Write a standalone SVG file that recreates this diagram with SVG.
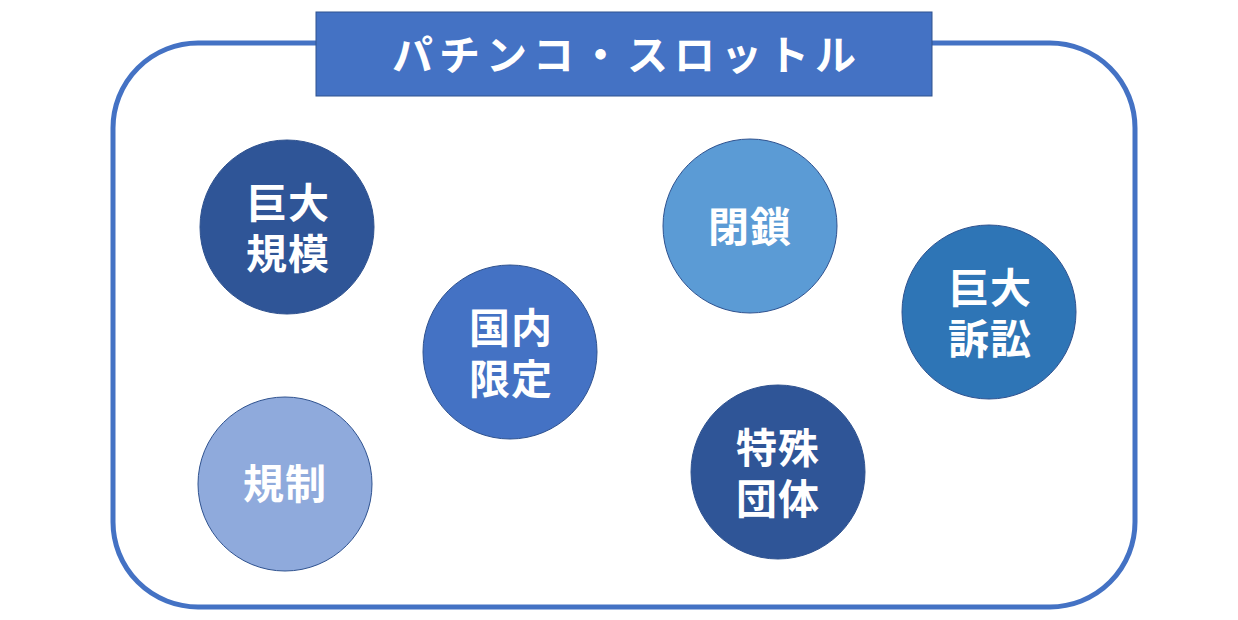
<svg xmlns="http://www.w3.org/2000/svg" width="1238" height="620" viewBox="0 0 1238 620">
<style>
.frame{fill:#ffffff;stroke:#4472C4;stroke-width:5}
.title{fill:#4472C4;stroke:#2F528F;stroke-width:1}
.c{stroke:#2F528F;stroke-width:1}
.t{font-family:"Noto Sans CJK JP","Noto Sans CJK SC",sans-serif;font-weight:bold;fill:#ffffff;text-anchor:middle;dominant-baseline:central}
.tt{font-size:41px;letter-spacing:6px}
.ct{font-size:41px;letter-spacing:1px}
</style>
<rect width="1238" height="620" fill="#ffffff"/>
<g id="frame">
<rect class="frame" x="113" y="43" width="1022" height="564" rx="85" ry="85"/>
</g>
<g id="title">
<rect class="title" x="316" y="12" width="616" height="84"/>
<text class="t tt" x="627" y="52">パチンコ・スロットル</text>
</g>
<g id="connectors"></g>
<g id="node-kyodaikibo">
<circle class="c" cx="287" cy="227" r="87" fill="#2F5597"/>
<text class="t ct" x="288" y="200">巨大</text>
<text class="t ct" x="288" y="251">規模</text>
</g>
<g id="node-kokunai">
<circle class="c" cx="510" cy="352" r="87" fill="#4472C4"/>
<text class="t ct" x="511" y="325">国内</text>
<text class="t ct" x="511" y="376">限定</text>
</g>
<g id="node-kisei">
<circle class="c" cx="285" cy="484" r="87" fill="#8FAADC"/>
<text class="t ct" x="285" y="481">規制</text>
</g>
<g id="node-heisa">
<circle class="c" cx="750" cy="226" r="87" fill="#5B9BD5"/>
<text class="t ct" x="750" y="224">閉鎖</text>
</g>
<g id="node-sosho">
<circle class="c" cx="989" cy="312" r="87" fill="#2E75B6"/>
<text class="t ct" x="990" y="285">巨大</text>
<text class="t ct" x="990" y="336">訴訟</text>
</g>
<g id="node-tokushu">
<circle class="c" cx="778" cy="472" r="87" fill="#2F5597"/>
<text class="t ct" x="778" y="445">特殊</text>
<text class="t ct" x="778" y="496">団体</text>
</g>
</svg>
